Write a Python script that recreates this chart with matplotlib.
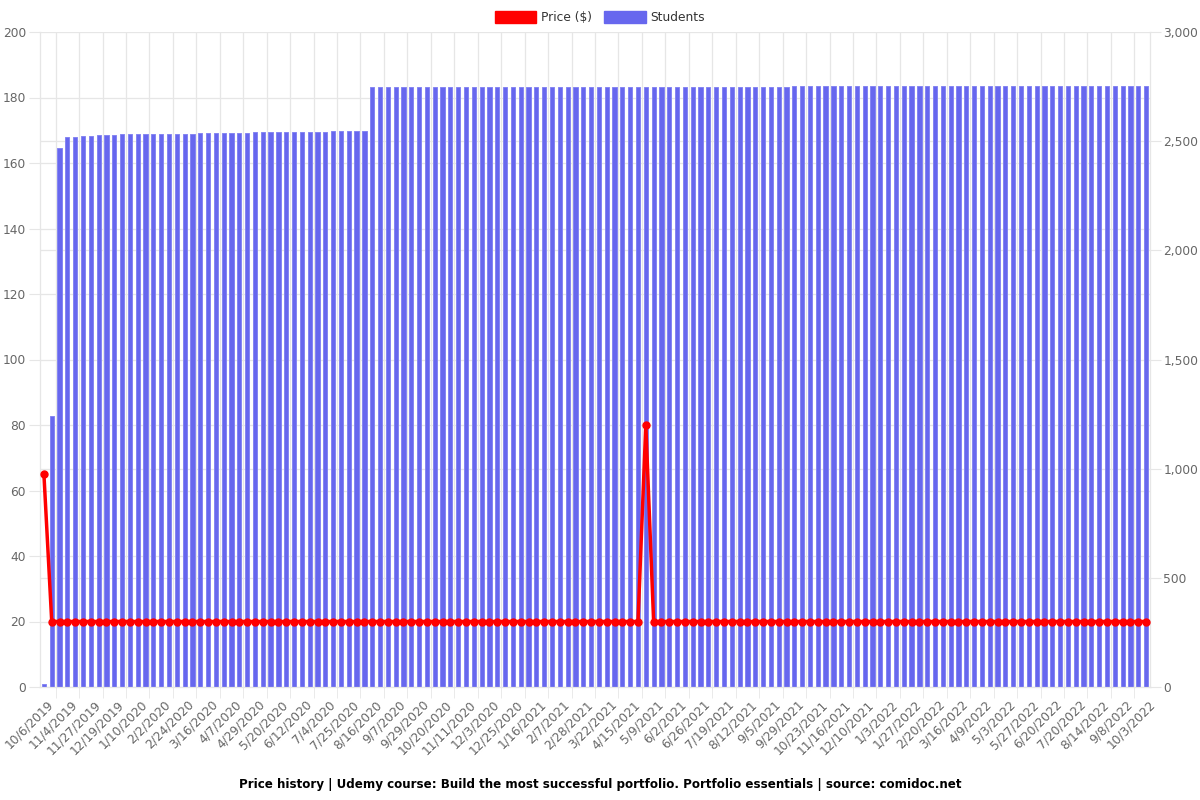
import numpy as np
import matplotlib
matplotlib.use("Agg")
import matplotlib.pyplot as plt
import matplotlib.transforms as mtransforms
from matplotlib.patches import Patch
from matplotlib.ticker import FuncFormatter

# one bar per snapshot, only every 3rd date is labelled on the axis
tick_labels = ["10/6/2019", "11/4/2019", "11/27/2019", "12/19/2019", "1/10/2020",
               "2/2/2020", "2/24/2020", "3/16/2020", "4/7/2020", "4/29/2020",
               "5/20/2020", "6/12/2020", "7/4/2020", "7/25/2020", "8/16/2020",
               "9/7/2020", "9/29/2020", "10/20/2020", "11/11/2020", "12/3/2020",
               "12/25/2020", "1/16/2021", "2/7/2021", "2/28/2021", "3/22/2021",
               "4/15/2021", "5/9/2021", "6/2/2021", "6/26/2021", "7/19/2021",
               "8/12/2021", "9/5/2021", "9/29/2021", "10/23/2021", "11/16/2021",
               "12/10/2021", "1/3/2022", "1/27/2022", "2/20/2022", "3/16/2022",
               "4/9/2022", "5/3/2022", "5/27/2022", "6/20/2022", "7/20/2022",
               "8/14/2022", "9/8/2022", "10/3/2022"]

students = [
    15, 1240, 2467, 2519, 2520, 2522, 2525, 2528, 2529, 2530,
    2531, 2531, 2532, 2532, 2533, 2533, 2534, 2534, 2535, 2535,
    2536, 2536, 2537, 2537, 2538, 2538, 2539, 2540, 2540, 2541,
    2541, 2542, 2542, 2543, 2543, 2544, 2544, 2545, 2545, 2546,
    2546, 2547, 2748, 2748, 2748, 2748, 2748, 2748, 2748, 2748,
    2748, 2748, 2748, 2748, 2748, 2748, 2749, 2749, 2749, 2749,
    2749, 2749, 2749, 2749, 2749, 2749, 2749, 2749, 2749, 2749,
    2749, 2749, 2749, 2749, 2749, 2749, 2750, 2750, 2750, 2750,
    2750, 2750, 2750, 2750, 2750, 2750, 2750, 2750, 2750, 2750,
    2750, 2750, 2750, 2750, 2750, 2750, 2751, 2751, 2751, 2751,
    2751, 2751, 2751, 2751, 2751, 2751, 2751, 2751, 2751, 2751,
    2751, 2751, 2751, 2751, 2751, 2751, 2752, 2752, 2752, 2752,
    2752, 2752, 2752, 2752, 2752, 2752, 2752, 2752, 2752, 2752,
    2752, 2753, 2753, 2753, 2753, 2753, 2753, 2753, 2753, 2753,
    2753, 2753,
]

price = [
    65, 20, 20, 20, 20, 20, 20, 20, 20, 20,
    20, 20, 20, 20, 20, 20, 20, 20, 20, 20,
    20, 20, 20, 20, 20, 20, 20, 20, 20, 20,
    20, 20, 20, 20, 20, 20, 20, 20, 20, 20,
    20, 20, 20, 20, 20, 20, 20, 20, 20, 20,
    20, 20, 20, 20, 20, 20, 20, 20, 20, 20,
    20, 20, 20, 20, 20, 20, 20, 20, 20, 20,
    20, 20, 20, 20, 20, 20, 20, 80, 20, 20,
    20, 20, 20, 20, 20, 20, 20, 20, 20, 20,
    20, 20, 20, 20, 20, 20, 20, 20, 20, 20,
    20, 20, 20, 20, 20, 20, 20, 20, 20, 20,
    20, 20, 20, 20, 20, 20, 20, 20, 20, 20,
    20, 20, 20, 20, 20, 20, 20, 20, 20, 20,
    20, 20, 20, 20, 20, 20, 20, 20, 20, 20,
    20, 20,
]

price_ticks = [0, 20, 40, 60, 80, 100, 120, 140, 160, 180, 200]
student_ticks = [0, 500, 1000, 1500, 2000, 2500, 3000]

grid_c = "#e6e6e6"
text_c = "#666666"
bar_c = "#6767ee"
fs = 8.8

x = np.arange(len(students))
label_pos = x[::3]

fig = plt.figure(figsize=(12, 8), dpi=100)
ax = fig.add_axes([40 / 1200, 1 - 687 / 800, 1110 / 1200, 655 / 800])

# students: bars on the right axis
ax.bar(x, students, width=0.54, color=bar_c, edgecolor="#8585f2", linewidth=0.7, zorder=2)
ax.set_ylim(0, 3000)
ax.set_xlim(-0.5, len(students) - 0.5)

# price: line on the left axis
ax2 = ax.twinx()
ax2.plot(x, price, color="#ff0000", linewidth=2.5, marker="o", markersize=5, zorder=3)
ax2.set_ylim(0, 200)
ax2.yaxis.tick_left()
ax2.set_yticks(price_ticks)
ax2.tick_params(axis="y", length=8, color=grid_c, labelsize=fs, labelcolor=text_c, pad=2)

# twinx puts the first axis ticks back on the left, so set them after it
ax.yaxis.tick_right()
ax.set_yticks(student_ticks)
ax.yaxis.set_major_formatter(FuncFormatter(lambda v, p: f"{int(v):,}"))
# the left axis grid (every 20 $) drawn here so it stays behind the bars
ax.set_yticks([t * 15 for t in price_ticks], minor=True)
ax.yaxis.set_minor_formatter(FuncFormatter(lambda v, p: ""))
ax.tick_params(axis="y", which="minor", length=0)
ax.tick_params(axis="y", which="major", length=8, color=grid_c, labelsize=fs, labelcolor=text_c, pad=1.5)

ax.set_xticks(label_pos)
ax.set_xticklabels(tick_labels, rotation=45, ha="right", rotation_mode="anchor")
ax.set_xticks(label_pos[:-1] + 1.5, minor=True)
ax.tick_params(axis="x", which="major", length=0, pad=8, labelsize=fs, labelcolor=text_c)
ax.tick_params(axis="x", which="minor", length=8, color=grid_c)
shift = mtransforms.ScaledTranslation(3 / 100, 0, fig.dpi_scale_trans)
for lab in ax.get_xticklabels():
    lab.set_transform(lab.get_transform() + shift)

ax.grid(True, axis="y", which="both", color=grid_c, linewidth=0.9)
ax.grid(True, axis="x", which="minor", color=grid_c, linewidth=0.9)
ax.set_axisbelow(True)

for a in (ax, ax2):
    for s in a.spines.values():
        s.set_color(grid_c)
    a.spines["top"].set_visible(False)

handles = [Patch(color="#ff0000", label="Price ($)"),
           Patch(color=bar_c, label="Students")]
fig.legend(handles=handles, loc="upper center", bbox_to_anchor=(0.5, 1.0), ncol=2,
           frameon=False, fontsize=fs, handlelength=3.4, handleheight=1.1,
           columnspacing=1.0, handletextpad=0.4, labelcolor="#333333")

fig.text(0.5, 0.015, "Price history | Udemy course: Build the most successful portfolio. "
         "Portfolio essentials | source: comidoc.net",
         ha="center", fontsize=8.6, fontweight="bold")

fig.savefig("out.png", dpi=100)
